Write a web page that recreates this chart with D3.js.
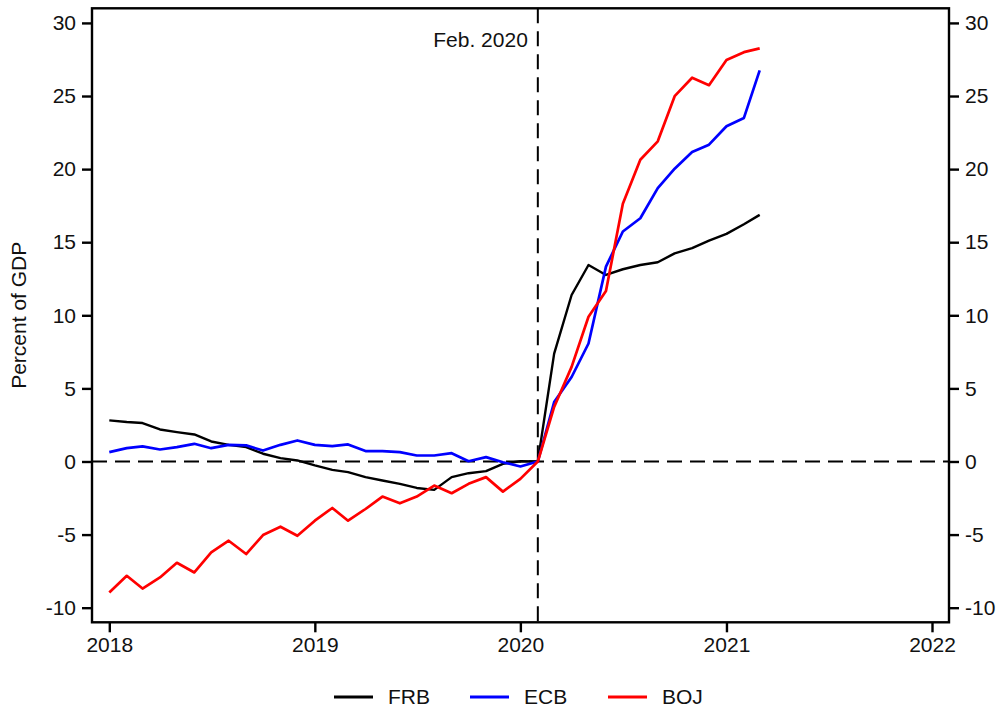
<!DOCTYPE html>
<html lang="en">
<head>
    <meta charset="UTF-8">
    <title>Central bank balance sheets</title>
    <script src="https://d3js.org/d3.v7.min.js"></script>
    <style>
        body { margin: 0; background: #fff; }
        text {
            font-family: "Liberation Sans", Arial, sans-serif;
            font-size: 21px;
            fill: #111;
        }
    </style>
</head>
<body>
    <div id="chart"></div>

    <script>
      // monthly, Jan 2018 .. Mar 2021, change since Feb. 2020 (percent of GDP)
      const startMonth = new Date(2018, 0, 1);
      const frb = [2.81, 2.70, 2.63, 2.19, 2.01, 1.85, 1.37, 1.14, 0.98, 0.53, 0.23, 0.07,
                   -0.27, -0.57, -0.73, -1.07, -1.30, -1.53, -1.81, -1.94, -1.07, -0.80, -0.66, -0.16,
                   0.02, 0, 7.38, 11.39, 13.44, 12.76, 13.15, 13.44, 13.63, 14.24, 14.59, 15.11,
                   15.57, 16.23, 16.87];
      const ecb = [0.64, 0.91, 1.03, 0.82, 0.98, 1.21, 0.91, 1.14, 1.10, 0.75, 1.14, 1.44,
                   1.14, 1.05, 1.17, 0.71, 0.71, 0.64, 0.41, 0.41, 0.57, 0.02, 0.30, -0.05,
                   -0.34, 0, 4.07, 5.78, 8.07, 13.33, 15.73, 16.64, 18.70, 20.03, 21.17, 21.67,
                   22.93, 23.50, 26.75];
      const boj = [-8.96, -7.82, -8.69, -7.93, -6.93, -7.59, -6.22, -5.42, -6.33, -5.03, -4.46, -5.08,
                   -4.05, -3.18, -4.05, -3.25, -2.40, -2.86, -2.40, -1.65, -2.17, -1.53, -1.07, -2.06,
                   -1.19, 0, 3.73, 6.47, 9.90, 11.66, 17.63, 20.64, 21.90, 24.99, 26.25, 25.74,
                   27.46, 28.00, 28.26];
      const seriesNames = ["FRB", "ECB", "BOJ"];
      const seriesColors = ["#000000", "#0000ff", "#ff0000"];
      const yTicks = [-10, -5, 0, 5, 10, 15, 20, 25, 30];
      const xTicks = [2018, 2019, 2020, 2021, 2022];
      const eventDate = new Date(2020, 1, 1);
      const eventLabel = "Feb. 2020";

      const width = 1000, height = 712;
      const frame = { left: 92, right: 949, top: 8.3, bottom: 622.3 };

      const svg = d3.select("#chart")
            .append("svg")
            .attr("width", width)
            .attr("height", height);

      let x_scale = d3.scaleTime()
            .domain([new Date(2018, 0, 1), new Date(2022, 0, 1)])
            .range([109.3, 932]);
      let y_scale = d3.scaleLinear()
            .domain([-11, 31])
            .range([frame.bottom, frame.top]);

      // reference lines
      svg.append("line")
            .attr("x1", frame.left).attr("x2", frame.right)
            .attr("y1", y_scale(0)).attr("y2", y_scale(0))
            .attr("stroke", "#000").attr("stroke-width", 2)
            .attr("stroke-dasharray", "15,8");
      svg.append("line")
            .attr("x1", x_scale(eventDate)).attr("x2", x_scale(eventDate))
            .attr("y1", frame.top).attr("y2", frame.bottom)
            .attr("stroke", "#000").attr("stroke-width", 2)
            .attr("stroke-dasharray", "15,8");
      svg.append("text")
            .attr("x", x_scale(eventDate) - 10)
            .attr("y", 47)
            .style("text-anchor", "end")
            .text(eventLabel);

      // lines
      const series = [frb, ecb, boj];
      const line = d3.line()
            .x((d, i) => x_scale(d3.timeMonth.offset(startMonth, i)))
            .y(d => y_scale(d));
      series.forEach(function(values, k) {
          svg.append("path")
            .datum(values)
            .attr("d", line)
            .attr("fill", "none")
            .attr("stroke", seriesColors[k])
            .attr("stroke-width", k == 0 ? 2.4 : 2.7)
            .attr("stroke-linejoin", "round");
      });

      // frame
      svg.append("rect")
            .attr("x", frame.left).attr("y", frame.top)
            .attr("width", frame.right - frame.left)
            .attr("height", frame.bottom - frame.top)
            .attr("fill", "none")
            .attr("stroke", "#000")
            .attr("stroke-width", 2.4);

      // axes (plain hyphen for negatives, like the original)
      const yFormat = d => String(d);
      const leftAxis = svg.append("g")
            .attr("transform", "translate(" + frame.left + ",0)")
            .call(d3.axisLeft(y_scale).tickValues(yTicks).tickFormat(yFormat).tickSize(10).tickPadding(6));
      const rightAxis = svg.append("g")
            .attr("transform", "translate(" + frame.right + ",0)")
            .call(d3.axisRight(y_scale).tickValues(yTicks).tickFormat(yFormat).tickSize(10).tickPadding(6));
      const bottomAxis = svg.append("g")
            .attr("transform", "translate(0," + frame.bottom + ")")
            .call(d3.axisBottom(x_scale)
                .tickValues(xTicks.map(y => new Date(y, 0, 1)))
                .tickFormat(d3.timeFormat("%Y"))
                .tickSize(10).tickPadding(5));
      [leftAxis, rightAxis, bottomAxis].forEach(function(g) {
          g.select(".domain").remove();
          g.selectAll("line").attr("stroke", "#000").attr("stroke-width", 2.4);
          g.selectAll("text")
            .style("font-size", "21px")
            .style("font-family", "'Liberation Sans', Arial, sans-serif")
            .attr("fill", "#111");
      });

      // y axis title
      svg.append("text")
            .attr("transform", "rotate(-90)")
            .attr("x", -(frame.top + frame.bottom) / 2)
            .attr("y", 26)
            .style("text-anchor", "middle")
            .text("Percent of GDP");

      // legend
      const legendX = [334, 470, 608];
      seriesNames.forEach(function(name, k) {
          svg.append("line")
            .attr("x1", legendX[k]).attr("x2", legendX[k] + 39)
            .attr("y1", 697).attr("y2", 697)
            .attr("stroke", seriesColors[k])
            .attr("stroke-width", 3);
          svg.append("text")
            .attr("x", legendX[k] + 54)
            .attr("y", 704)
            .text(name);
      });
    </script>
</body>
</html>
